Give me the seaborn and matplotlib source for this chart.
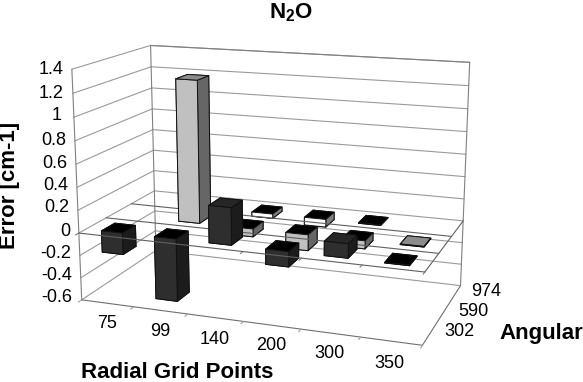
import numpy as np
import pandas as pd
import seaborn as sns
import matplotlib.pyplot as plt

radial = ["75", "99", "140", "200", "300", "350"]
angular = ["302", "590", "974"]
err_302 = [-0.19, -0.55, 0.32, -0.13, 0.12, -0.005]
err_590 = [np.nan, 1.26, -0.07, -0.14, -0.07, 0.005]
err_974 = [np.nan, np.nan, -0.04, -0.07, -0.005, np.nan]
z_ticks = [-0.6, -0.4, -0.2, 0, 0.2, 0.4, 0.6, 0.8, 1, 1.2, 1.4]

# front, side, top (up) , top (down)
face_colors = {
    "302": ("#2e2e2e", "#1c1c1c", "#262626", "#000000"),
    "590": ("#c0c0c0", "#666666", "#8c8c8c", "#000000"),
    "974": ("#ffffff", "#808080", "#8c8c8c", "#000000"),
}

sns.set_theme(style="white")
plt.rcParams["font.family"] = ["Liberation Sans", "DejaVu Sans"]
plt.rcParams["mathtext.fontset"] = "custom"
plt.rcParams["mathtext.bf"] = "Liberation Sans:bold"
plt.rcParams["mathtext.rm"] = "Liberation Sans"

df = pd.DataFrame({"302": err_302, "590": err_590, "974": err_974}, index=radial)
df = df.reset_index().melt(id_vars="index", var_name="angular", value_name="err").dropna()
df["xi"] = df["index"].map(radial.index)
df["yi"] = df["angular"].map(angular.index)

fig = plt.figure(figsize=(5.83, 3.82), dpi=100)
# 3d axes stay square, so give it a box as wide as the figure
ax = fig.add_axes([-0.043, -0.26, 1.0, 583 / 382], projection="3d", computed_zorder=False)
ax.set_proj_type("persp", focal_length=0.38)
ax.view_init(elev=14.5, azim=-70)
ax.set_box_aspect((360, 178, 241), zoom=0.758)
ax.set_xlim(0, 6)
ax.set_ylim(0, 3)
ax.set_zlim(-0.6, 1.4)
ax.set_axis_off()

grid = "#9a9a9a"
lw = 0.8


def line(xs, ys, zs, z=1, c=grid):
    ax.plot(xs, ys, zs, color=c, lw=lw, zorder=z)


# walls
for v in z_ticks:
    line([0, 0], [0, 3], [v, v])
    line([0, 6], [3, 3], [v, v])
line([0, 0], [0, 0], [-0.6, 1.4], c="#808080")
line([0, 0], [3, 3], [-0.6, 1.4], c="#808080")
line([0, 6], [3, 3], [1.4, 1.4], c="#808080")
line([6, 6], [3, 3], [-0.6, 1.4], c="#808080")

# floor edges and the zero plane
line([0, 6], [0, 0], [-0.6, -0.6], c="#707070")
line([6, 6], [0, 3], [-0.6, -0.6], c="#707070")
line([6, 6], [0, 3], [0, 0], c="#606060")
# row lines sit in front of the bars behind them
for j in [0, 1, 2]:
    line([0, 6], [j, j], [0, 0], z=25 + (2 - j) * 20, c="#606060")
for i in range(7):
    line([i, i], [0, -0.12], [0, 0], c="#808080")
    line([i, i], [0, -0.12], [-0.6, -0.6], c="#a0a0a0")

# bars, back rows first, left to right
for row in df.itertuples():
    front, side, up, down = face_colors[row.angular]
    top = up if row.err > 0 else down
    colors = [top, top, front, front, side, side]
    ax.bar3d(row.xi + 0.3, row.yi + 0.25, 0, 0.4, 0.5, row.err,
             color=colors, shade=False, edgecolor="#111111", linewidth=0.7,
             zorder=10 + (2 - row.yi) * 20 + row.xi)


def px_text(x, y, s, **kw):
    fig.text(x / 583, 1 - y / 382, s, color="black", va="center", **kw)


# tick labels
z_label_right = [72, 72, 71, 70, 69, 68, 67, 66, 62, 64, 63]
z_label_y = [298, 276, 254, 231, 208, 186, 163, 140, 116, 93, 69]
for v, xr, yy in zip(z_ticks, z_label_right, z_label_y):
    px_text(xr, yy, f"{v:g}", ha="right", fontsize=13)
for lab, xc, yy in zip(radial, [107, 160, 215, 271, 329, 389], [323, 332, 339, 346, 354, 363]):
    px_text(xc, yy, lab, ha="center", fontsize=13)
for lab, xc, yy in zip(angular, [459, 473, 486], [332, 311, 292]):
    px_text(xc, yy, lab, ha="center", fontsize=13)

px_text(291, 13, r"$\mathbf{N_2O}$", ha="center", fontsize=16)
px_text(10, 185, "Error [cm-1]", rotation=90, ha="center", fontsize=16, fontweight="bold")
px_text(177, 373, "Radial Grid Points", ha="center", fontsize=16, fontweight="bold")
px_text(541, 333, "Angular", ha="center", fontsize=16, fontweight="bold")

fig.savefig("out.png", dpi=100)
